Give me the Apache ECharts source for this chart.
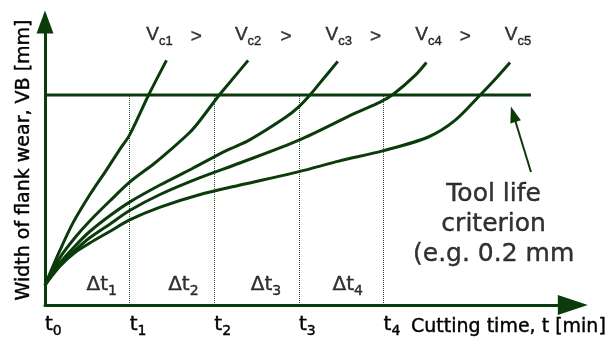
<!DOCTYPE html>
<html>
<head>
<meta charset="utf-8">
<script src="https://cdn.jsdelivr.net/npm/echarts@6/dist/echarts.min.js"></script>
<style>
html,body{margin:0;padding:0;background:#fff;}
#c{width:609px;height:339px;}
</style>
</head>
<body>
<div id="c"></div>
<script>
// ---- data (time in units of t-step, VB in mm) ----
const tickSubs = ['0', '1', '2', '3', '4'];
const vc1 = [[0,0.019],[0.176,0.052],[0.329,0.078],[0.529,0.105],[0.729,0.129],[0.882,0.148],[1.0,0.162],[1.224,0.200],[1.435,0.233]];
const vc2 = [[0,0.019],[0.176,0.045],[0.353,0.064],[0.529,0.080],[0.765,0.099],[1.0,0.117],[1.294,0.135],[1.471,0.147],[1.706,0.164],[1.824,0.175],[2.059,0.200],[2.235,0.217],[2.4,0.233]];
const vc3 = [[0,0.019],[0.176,0.040],[0.353,0.056],[0.529,0.070],[0.765,0.085],[1.0,0.098],[1.353,0.114],[1.741,0.130],[2.141,0.147],[2.412,0.157],[2.847,0.179],[3.0,0.189],[3.141,0.201],[3.294,0.216],[3.459,0.232]];
const vc4 = [[0,0.019],[0.176,0.039],[0.353,0.052],[0.529,0.064],[0.765,0.077],[1.0,0.090],[1.353,0.105],[1.824,0.121],[2.294,0.135],[3.0,0.157],[3.671,0.183],[3.953,0.193],[4.118,0.201],[4.376,0.219],[4.506,0.231]];
const vc5 = [[0,0.019],[0.176,0.037],[0.353,0.050],[0.529,0.059],[0.765,0.070],[1.0,0.081],[1.353,0.093],[1.824,0.105],[2.294,0.114],[3.0,0.127],[3.471,0.137],[4.0,0.147],[4.529,0.160],[4.847,0.176],[5.153,0.201],[5.329,0.216],[5.494,0.231]];
const criterionVB = 0.2;
const criterionEnd = 5.741;
const toolLives = [1, 2, 3, 4];
const vcSubs = ['c1', 'c2', 'c3', 'c4', 'c5'];
const dtSubs = ['1', '2', '3', '4'];

// ---- annotation anchors (data coords) ----
const vcLabelPos = [[1.353,0.257],[2.4,0.257],[3.47,0.257],[4.53,0.257],[5.588,0.257]];
const gtLabelPos = [[1.788,0.255],[2.847,0.255],[3.906,0.255],[4.965,0.255]];
const dtLabelPos = [[0.67,0.019],[1.635,0.019],[2.61,0.019],[3.576,0.019]];
const noteLabelPos = [5.3,0.0762];
const pointerLine = [[5.741,0.1267],[5.532,0.1817]];

const GREEN = '#0b3b0b';
const ARIAL = 'Liberation Sans, Arial, sans-serif';
const WIDE = 'DejaVu Sans, Verdana, sans-serif';
const INK = {color: '#000', textBorderColor: '#000', textBorderWidth: 0.4};
const richV = {
  m: Object.assign({fontSize: 19, lineHeight: 26, fontFamily: ARIAL, verticalAlign: 'middle'}, INK),
  s: Object.assign({fontSize: 13, lineHeight: 13, fontFamily: ARIAL, verticalAlign: 'bottom'}, INK)
};
const richT = {
  m: Object.assign({fontSize: 20, lineHeight: 26, fontFamily: WIDE, verticalAlign: 'middle'}, INK),
  s: Object.assign({fontSize: 14, lineHeight: 14, fontFamily: WIDE, verticalAlign: 'bottom'}, INK)
};

function curve(d) {
  return {type: 'line', data: d, smooth: 0.3, symbol: 'none', silent: true,
    lineStyle: {color: GREEN, width: 3}, z: 3};
}
function labelSeries(pos, texts, rich) {
  return {
    type: 'scatter', silent: true, symbolSize: 1,
    itemStyle: {color: 'rgba(0,0,0,0)'},
    data: pos.map((p, i) => ({value: p, label: {formatter: texts[i]}})),
    label: {show: true, position: 'inside', color: '#000', rich: rich},
    z: 5
  };
}

const chart = echarts.init(document.getElementById('c'), null, {renderer: 'canvas'});
chart.setOption({
  animation: false,
  backgroundColor: '#fff',
  grid: {left: 45, top: 22, width: 530, height: 283, containLabel: false},
  xAxis: {
    type: 'value', min: 0, max: 530 / 85, interval: 1,
    axisLine: {show: true, onZero: false, symbol: ['none', 'triangle'], symbolSize: [20, 30],
      lineStyle: {color: GREEN, width: 3}},
    axisTick: {show: false}, splitLine: {show: false},
    axisLabel: {
      margin: 7, align: 'left', rich: richT,
      formatter: v => (v <= 4 && Math.abs(v - Math.round(v)) < 1e-6) ? '{m|t}{s|' + tickSubs[Math.round(v)] + '}' : ''
    },
    name: 'Cutting time, t [min]', nameLocation: 'end', nameGap: 33,
    nameTextStyle: Object.assign({fontSize: 19, fontFamily: WIDE, align: 'right', verticalAlign: 'top', padding: [13, 0, 0, 0]}, INK)
  },
  yAxis: {
    type: 'value', min: 0, max: 283 / 1050,
    axisLine: {show: true, onZero: false, symbol: ['none', 'triangle'], symbolSize: [17, 23],
      lineStyle: {color: GREEN, width: 3}},
    axisTick: {show: false}, splitLine: {show: false}, axisLabel: {show: false},
    name: 'Width of flank wear, VB [mm]', nameLocation: 'middle', nameGap: 11, nameRotate: 90,
    nameTextStyle: Object.assign({fontSize: 19, fontFamily: WIDE, padding: [0, 0, 0, 7]}, INK)
  },
  series: [
    {
      type: 'line', silent: true, symbol: 'none',
      data: [[0, criterionVB], [criterionEnd, criterionVB]],
      lineStyle: {color: GREEN, width: 3}, z: 2,
      markLine: {
        silent: true, symbol: ['none', 'none'], animation: false,
        label: {show: false},
        lineStyle: {color: GREEN, width: 1, type: 'dotted', opacity: 0.9},
        data: toolLives.map(t => [{coord: [t, 0]}, {coord: [t, criterionVB]}])
      }
    },
    curve(vc1), curve(vc2), curve(vc3), curve(vc4), curve(vc5),
    {
      type: 'line', silent: true, symbol: 'none', data: [],
      markLine: {
        silent: true, symbol: ['none', 'triangle'], symbolSize: [11, 16], animation: false,
        label: {show: false},
        lineStyle: {color: GREEN, width: 2, type: 'solid'},
        itemStyle: {color: GREEN},
        data: [[{coord: pointerLine[0]}, {coord: pointerLine[1]}]]
      }
    },
    labelSeries(vcLabelPos, vcSubs.map(s => '{m|V}{s|' + s + '}'), richV),
    labelSeries(gtLabelPos, gtLabelPos.map(() => '{m|>}'), richV),
    labelSeries(dtLabelPos, dtSubs.map(s => '{m|\u0394t}{s|' + s + '}'), richT),
    {
      type: 'scatter', silent: true, symbolSize: 1, itemStyle: {color: 'rgba(0,0,0,0)'},
      data: [noteLabelPos],
      label: Object.assign({show: true, position: 'inside', formatter: 'Tool life\ncriterion\n(e.g. 0.2 mm',
        fontSize: 25, lineHeight: 30, fontFamily: WIDE, align: 'center'}, INK),
      z: 5
    }
  ]
});
</script>
</body>
</html>
